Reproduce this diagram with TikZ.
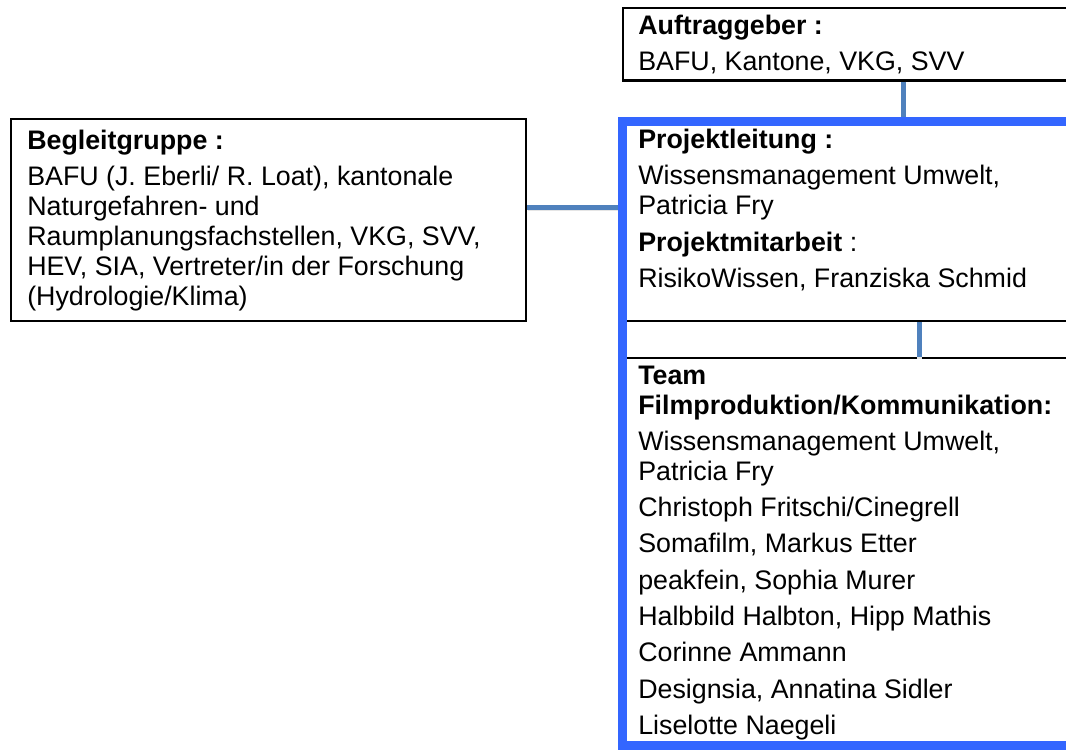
\documentclass[tikz,border=0pt]{standalone}
\usepackage{fontspec}
\setmainfont{Liberation Sans}
\usetikzlibrary{fit}
\definecolor{frameblue}{HTML}{3366FF}
\definecolor{connblue}{HTML}{4F81BD}
\newcommand\bodyfs{\fontsize{20.1pt}{22.35pt}\selectfont}
\newcommand\fst{\rule{0pt}{15pt}}
\newcommand\pg{\\[4.9pt]}
\begin{document}
\begin{tikzpicture}[x=0.75pt,y=-0.75pt,
  boxline/.style={draw=black, line width=1.5pt, inner sep=0pt},
  groupframe/.style={draw=frameblue, line width=6.75pt, inner sep=0pt},
  conn/.style={draw=connblue, line width=3.75pt,
    preaction={draw=black!10, line width=3.75pt, transform canvas={shift={(0.6pt,-1.3pt)}}}},
  txt/.style={anchor=north west, inner sep=0pt, align=left, font=\bodyfs}]
\useasboundingbox (0,0) rectangle (1066,749);
\clip (0,0) rectangle (1066,749);
\fill[white] (0,0) rectangle (1066,749);

% boxes
\node[boxline, fit={(623,8) (1080,80.5)}] (auftr) {};
\node[boxline, fit={(11,118.5) (526,320.5)}] (begl) {};
\node[boxline, fit={(622.5,121.5) (1080,321)}] (proj) {};
\node[boxline, fit={(622.5,358) (1080,745.5)}] (team) {};

% helper coordinates for connector positions
\coordinate (ctop) at (903,100);
\coordinate (cleft) at (575,207);
\coordinate (cmid) at (919,340);

% connectors
\draw[conn] (auftr.south -| ctop) -- (proj.north -| ctop);
\draw[conn] (begl.east |- cleft) -- ([xshift=0.5pt]proj.west |- cleft);
\draw[conn] (proj.south -| cmid) -- (team.north -| cmid);

% blue group frame
\node[groupframe, fit={(622.5,121.5) (1080,745.5)}] (frame) {};

% texts
\node[txt] (tauftr) at (638,14) {\fst\textbf{Auftraggeber :}\pg
BAFU, Kantone, VKG, SVV};

\node[txt] (tbegl) at (27,129.3) {\fst\textbf{Begleitgruppe :}\pg
BAFU (J. Eberli/ R. Loat), kantonale\\
Naturgefahren- und\\
Raumplanungsfachstellen, VKG, SVV,\\
HEV, SIA, Vertreter/in der Forschung\\
(Hydrologie/Klima)};

\node[txt] (tproj) at (638,128.3) {\fst\textbf{Projektleitung :}\pg
Wissensmanagement Umwelt,\\
Patricia Fry\pg
\textbf{Projektmitarbeit} :\pg
RisikoWissen, Franziska Schmid};

\node[txt] (tteam) at (638,364) {\fst\textbf{Team}\\
\textbf{Filmproduktion/Kommunikation:}\pg
Wissensmanagement Umwelt,\\
Patricia Fry\pg
Christoph Fritschi/Cinegrell\pg
Somafilm, Markus Etter\pg
peakfein, Sophia Murer\pg
Halbbild Halbton, Hipp Mathis\pg
Corinne Ammann\pg
Designsia, Annatina Sidler\pg
Liselotte Naegeli};
\end{tikzpicture}
\end{document}
